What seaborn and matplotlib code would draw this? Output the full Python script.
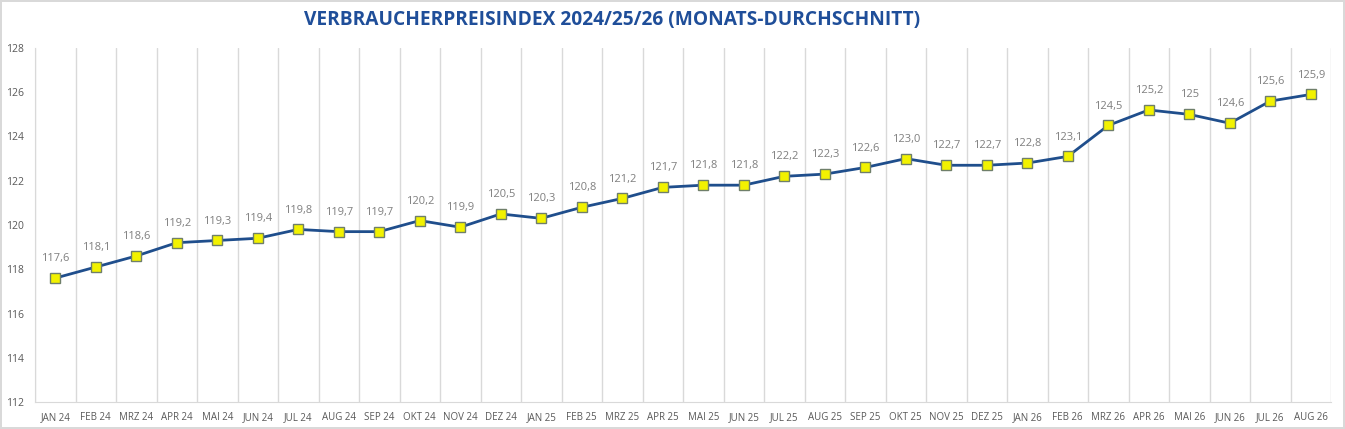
import numpy as np
import pandas as pd
import matplotlib
matplotlib.use("Agg")
import matplotlib.pyplot as plt
import seaborn as sns

months = ["JAN 24", "FEB 24", "MRZ 24", "APR 24", "MAI 24", "JUN 24", "JUL 24", "AUG 24",
          "SEP 24", "OKT 24", "NOV 24", "DEZ 24", "JAN 25", "FEB 25", "MRZ 25", "APR 25",
          "MAI 25", "JUN 25", "JUL 25", "AUG 25", "SEP 25", "OKT 25", "NOV 25", "DEZ 25",
          "JAN 26", "FEB 26", "MRZ 26", "APR 26", "MAI 26", "JUN 26", "JUL 26", "AUG 26"]
vpi = [117.6, 118.1, 118.6, 119.2, 119.3, 119.4, 119.8, 119.7, 119.7, 120.2, 119.9, 120.5,
       120.3, 120.8, 121.2, 121.7, 121.8, 121.8, 122.2, 122.3, 122.6, 123.0, 122.7, 122.7,
       122.8, 123.1, 124.5, 125.2, 125.0, 124.6, 125.6, 125.9]
point_labels = ["117,6", "118,1", "118,6", "119,2", "119,3", "119,4", "119,8", "119,7",
                "119,7", "120,2", "119,9", "120,5", "120,3", "120,8", "121,2", "121,7",
                "121,8", "121,8", "122,2", "122,3", "122,6", "123,0", "122,7", "122,7",
                "122,8", "123,1", "124,5", "125,2", "125", "124,6", "125,6", "125,9"]
y_ticks = [112, 114, 116, 118, 120, 122, 124, 126, 128]

df = pd.DataFrame({"pos": np.arange(len(months)), "vpi": vpi})

sns.set_style("white")
plt.rcParams['font.family'] = ['Open Sans', 'DejaVu Sans']

fig = plt.figure(figsize=(13.45, 4.29), dpi=100, facecolor='white',
                 edgecolor='#d9d9d9', linewidth=1.5)
ax = fig.add_axes([35 / 1345, 1 - 402 / 429, 1296 / 1345, 354 / 429])

sns.lineplot(data=df, x="pos", y="vpi", ax=ax, color='#1f4e8c', linewidth=2,
             marker='s', markersize=7, markerfacecolor='#f2f200',
             markeredgecolor='#6f7f6a', markeredgewidth=1)

for x, y, lab in zip(df["pos"], df["vpi"], point_labels):
    ax.annotate(lab, (x, y), xytext=(0, 10), textcoords='offset points',
                ha='center', va='bottom', fontsize=8, color='#7f7f7f')

ax.set_xlim(-0.5, len(months) - 0.5)
ax.set_ylim(112, 128)
ax.set_yticks(y_ticks)
ax.set_yticklabels([str(t) for t in y_ticks], fontsize=7.5, color='#595959')
ax.set_xticks(df["pos"])
ax.set_xticklabels(months, fontsize=7, color='#595959')
ax.set_xticks(np.arange(-0.5, len(months), 1), minor=True)
ax.grid(True, which='minor', axis='x', color='#d9d9d9', linewidth=1)
ax.tick_params(axis='both', which='both', length=0)
ax.tick_params(axis='x', pad=7)
ax.tick_params(axis='y', pad=8)
ax.set_xlabel("")
ax.set_ylabel("")
for side in ['top', 'right']:
    ax.spines[side].set_visible(False)
for side in ['left', 'bottom']:
    ax.spines[side].set_color('#d9d9d9')

fig.text(612 / 1345, 1 - 20 / 429, "VERBRAUCHERPREISINDEX 2024/25/26 (MONATS-DURCHSCHNITT)",
         ha='center', va='center', fontsize=13.8, fontweight='bold', color='#1f4e99')

fig.savefig("out.png", dpi=100, facecolor=fig.get_facecolor(), edgecolor=fig.get_edgecolor())
